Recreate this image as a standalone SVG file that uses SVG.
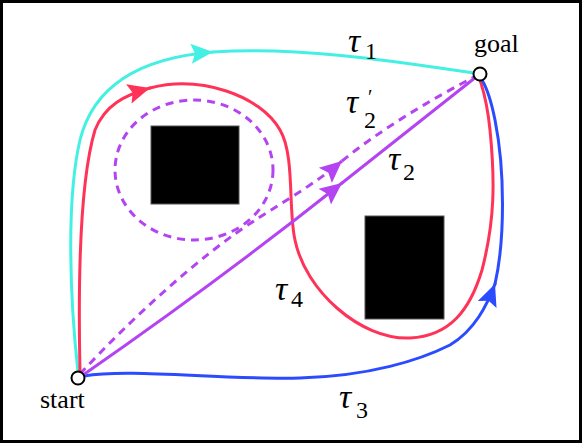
<svg xmlns="http://www.w3.org/2000/svg" width="582" height="443" viewBox="0 0 582 443">
<style>
.p{fill:none;stroke-width:3;stroke-linecap:round}
.cy{stroke:#44F0E4}
.rd{stroke:#FF3358}
.bl{stroke:#2B4BFF}
.pu{stroke:#B444F2}
.da{stroke-dasharray:8 6;stroke-linecap:butt}
.obs{fill:#000;stroke:#555;stroke-width:1}
.node{fill:#fff;stroke:#000;stroke-width:2}
text{fill:#000;font-family:"Liberation Serif","Times New Roman","DejaVu Serif",serif}
</style>
<defs>
<marker id="aCy" viewBox="-24 -12 26 24" refX="0" refY="0" markerWidth="26" markerHeight="24" markerUnits="userSpaceOnUse" orient="auto"><path d="M0,0 L-22,-10 L-18,0 L-22,10 Z" fill="#44F0E4"/></marker>
<marker id="aRd" viewBox="-24 -12 26 24" refX="0" refY="0" markerWidth="26" markerHeight="24" markerUnits="userSpaceOnUse" orient="auto"><path d="M0,0 L-22,-10 L-18,0 L-22,10 Z" fill="#FF3358"/></marker>
<marker id="aBl" viewBox="-24 -12 26 24" refX="0" refY="0" markerWidth="26" markerHeight="24" markerUnits="userSpaceOnUse" orient="auto"><path d="M0,0 L-22,-10 L-18,0 L-22,10 Z" fill="#2B4BFF"/></marker>
<marker id="aPu" viewBox="-24 -12 26 24" refX="0" refY="0" markerWidth="26" markerHeight="24" markerUnits="userSpaceOnUse" orient="auto"><path d="M0,0 L-22,-10 L-18,0 L-22,10 Z" fill="#B444F2"/></marker>
</defs>
<rect x="1.5" y="1.5" width="579" height="440" fill="#fff" stroke="#000" stroke-width="3"/>
<g id="obstacles">
<rect id="obstacle1" class="obs" x="151" y="126" width="88" height="78"/>
<rect id="obstacle2" class="obs" x="365" y="216" width="79" height="103"/>
</g>
<g id="connectors">
<g id="tau1">
<path class="p cy" d="M78,372 C70,300 66,200 80,140 C95,80 150,57 213,52" marker-end="url(#aCy)"/>
<path class="p cy" d="M213,52 C300,46 400,62 474,73"/>
</g>
<g id="tau4">
<path class="p rd" d="M80,372 C78,280 80,180 95,130 C105,105 125,95 150,88" marker-end="url(#aRd)"/>
<path class="p rd" d="M150,88 C200,75 260,95 280,130 C295,155 288,210 295,240 C305,290 360,340 410,338 C450,336 470,310 482,270 C495,220 495,180 490,130 C487,100 483,90 480,80"/>
</g>
<g id="tau3">
<path class="p bl" d="M84,376 C130,368 220,380 300,378 C370,376 420,360 450,345 C475,330 487,305 495,284" marker-end="url(#aBl)"/>
<path class="p bl" d="M495,284 C505,240 505,170 495,120 C490,95 485,85 482,80"/>
</g>
<g id="tau2">
<path class="p pu" d="M83,375 Q220,280 342,183" marker-end="url(#aPu)"/>
<path class="p pu" d="M342,183 L476,77"/>
</g>
<g id="tau2prime">
<path class="p pu da" d="M80,374 C130,320 200,255 260,217 C290,198 320,180 342,161" marker-end="url(#aPu)"/>
<path class="p pu da" d="M342,161 C380,130 430,100 476,76"/>
<ellipse class="p pu da" cx="194" cy="170" rx="79" ry="70"/>
</g>
</g>
<g id="start">
<circle class="node" cx="78" cy="378" r="6.5"/>
<text x="40" y="408" font-size="26">start</text>
</g>
<g id="goal">
<circle class="node" cx="480" cy="74" r="6.5"/>
<text x="474" y="52" font-size="26">goal</text>
</g>
<g id="labels">
<text x="348" y="52" font-size="34" font-style="italic">τ<tspan x="365" y="59" font-size="24" font-style="normal">1</tspan></text>
<text x="346" y="113" font-size="34" font-style="italic">τ<tspan x="368" y="104" font-size="20" font-style="normal">′</tspan></text>
<text x="364" y="128" font-size="24">2</text>
<text x="388" y="170" font-size="34" font-style="italic">τ<tspan x="403" y="180" font-size="24" font-style="normal">2</tspan></text>
<text x="339" y="408" font-size="34" font-style="italic">τ<tspan x="356" y="418" font-size="24" font-style="normal">3</tspan></text>
<text x="275" y="300" font-size="34" font-style="italic">τ<tspan x="291" y="307" font-size="24" font-style="normal">4</tspan></text>
</g>
</svg>
